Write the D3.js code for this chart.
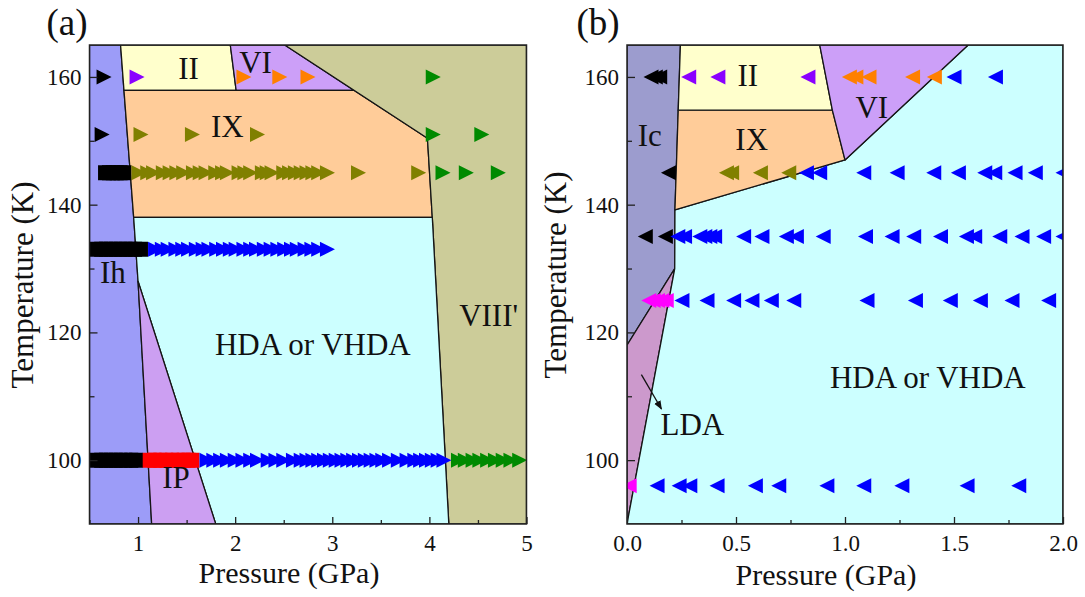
<!DOCTYPE html>
<html>
<head>
<meta charset="utf-8">
<script src="https://cdn.jsdelivr.net/npm/d3@7"></script>
<style>
  body { margin: 0; background: #fff; }
  svg { display: block; }
  text { font-family: "Liberation Serif", "Times New Roman", serif; fill: #111; }
</style>
</head>
<body>
<script>
// ---- phase regions, [pressure GPa, temperature K] ----
var regIhA   = [[0.5,165],[0.82,165],[0.855,157.9],[0.955,138],[1.0,128],[1.14,90],[0.5,90]];
var regIIA   = [[0.82,165],[1.95,165],[2.01,157.9],[0.855,157.9]];
var regVIA   = [[1.95,165],[2.51,165],[3.225,157.9],[2.01,157.9]];
var regIXA   = [[0.855,157.9],[3.225,157.9],[3.98,150.4],[4.03,138],[0.955,138]];
var regVIIIA = [[2.51,165],[5,165],[5,90],[4.2,90],[4.03,138],[3.98,150.4]];
var regHDAA  = [[0.955,138],[4.03,138],[4.2,90],[1.8,90],[1.0,128]];
var regIPA   = [[1.0,128],[1.8,90],[1.14,90]];

var regIcB   = [[0,165],[0.245,165],[0.235,154.8],[0.22,139.2],[0.219,130],[0,118]];
var regLDAB  = [[0,118],[0.219,130],[0,90]];
var regHDAB  = [[0.22,139.2],[1.0,147],[1.565,165],[2,165],[2,90],[0,90],[0.219,130]];
var regIXB   = [[0.235,154.8],[0.942,154.8],[1.0,147],[0.22,139.2]];
var regIIB   = [[0.245,165],[0.884,165],[0.942,154.8],[0.235,154.8]];
var regVIB   = [[0.884,165],[1.565,165],[1.0,147],[0.942,154.8]];

// ---- measured points (pressure values per temperature row) ----
// panel (a)
var a160Black  = [0.65];
var a160Violet = [0.99];
var a160Orange = [2.09, 2.46, 2.75];
var a160Green  = [4.04];
var a151Black  = [0.63];
var a151Olive  = [1.03, 1.56, 2.23];
var a151Green  = [4.04, 4.54];
var a145Black  = [0.66, 0.70, 0.74, 0.78, 0.82, 0.86];
var a145Olive  = [1.01, 1.10, 1.16, 1.26, 1.33, 1.40, 1.47, 1.57, 1.64, 1.70, 1.80, 1.87, 1.92, 2.04,
                  2.10, 2.16, 2.28, 2.33, 2.38, 2.50, 2.56, 2.62, 2.68, 2.74, 2.80, 2.86, 2.95, 3.27, 3.89];
var a145Green  = [4.14, 4.38, 4.71];
var a133Black  = [0.57, 0.62, 0.67, 0.72, 0.77, 0.82, 0.87, 0.92, 0.97, 1.03];
var a133Blue   = [1.18, 1.25, 1.31, 1.39, 1.46, 1.52, 1.60, 1.67, 1.73, 1.81, 1.88, 1.95, 2.01, 2.09,
                  2.16, 2.22, 2.30, 2.37, 2.44, 2.51, 2.58, 2.64, 2.72, 2.79, 2.86, 2.95];
var a100Black  = [0.57, 0.62, 0.67, 0.72, 0.77, 0.82, 0.87, 0.93, 0.98];
var a100Red    = [1.12, 1.17, 1.23, 1.29, 1.35, 1.41, 1.47, 1.52, 1.56];
var a100Blue   = [1.71, 1.78, 1.85, 1.92, 2.00, 2.08, 2.16, 2.23, 2.34, 2.42, 2.50, 2.60, 2.68, 2.74,
                  2.80, 2.86, 2.92, 2.98, 3.04, 3.10, 3.16, 3.22, 3.28, 3.34, 3.40, 3.46, 3.52, 3.59,
                  3.68, 3.77, 3.85, 3.91, 3.97, 4.03, 4.09, 4.15];
var a100Green  = [4.30, 4.37, 4.45, 4.52, 4.60, 4.68, 4.76, 4.84, 4.93];
// panel (b)
var b160Black  = [0.11, 0.13, 0.15];
var b160Violet = [0.283, 0.417, 0.83];
var b160Orange = [1.02, 1.05, 1.11, 1.31, 1.41];
var b160Blue   = [1.50, 1.69];
var b145Black  = [0.19];
var b145Olive  = [0.456, 0.48, 0.612, 0.742];
var b145Blue   = [0.823, 0.884, 1.086, 1.239, 1.407, 1.52, 1.641, 1.687, 1.78, 1.873, 2.0];
var b135Black  = [0.084, 0.176];
var b135Blue   = [0.233, 0.264, 0.334, 0.357, 0.38, 0.402, 0.535, 0.619, 0.731, 0.777, 0.9,
                  1.094, 1.216, 1.315, 1.438, 1.557, 1.595, 1.71, 1.812, 1.911, 2.0];
var b125Magenta= [0.10, 0.12, 0.14, 0.16, 0.18];
var b125Blue   = [0.252, 0.367, 0.489, 0.573, 0.662, 0.765, 1.101, 1.323, 1.483, 1.621, 1.766, 1.934];
var b96Magenta = [0.01];
var b96Blue    = [0.138, 0.239, 0.288, 0.413, 0.589, 0.696, 0.917, 1.086, 1.261, 1.56, 1.797];

// tick values
var xTicksA = [1, 2, 3, 4, 5], xMinorA = [0.5, 1.5, 2.5, 3.5, 4.5];
var xTicksB = [0, 0.5, 1.0, 1.5, 2.0], xMinorB = [0.25, 0.75, 1.25, 1.75];
var yTicks = [100, 120, 140, 160], yMinor = [110, 130, 150];

// ---- styles ----
var fills = {Ih:'#9c9cf8', II:'#ffffcc', VI:'#cc9ff8', IX:'#ffcc99', VIII:'#cccc99', HDA:'#ccffff',
             IP:'#cc9ff2', Ic:'#9c9cce', LDA:'#cc99cc'};
var colors = {black:'#000000', violet:'#8a00ff', orange:'#ff8000', green:'#008a00', olive:'#808000',
              blue:'#0000ff', red:'#ff0000', magenta:'#ff00ff'};

var W = 1085, H = 597;
var svg = d3.select('body').append('svg').attr('width', W).attr('height', H);
svg.append('defs').append('marker')
    .attr('id', 'arr').attr('viewBox', '0 0 10 10').attr('refX', 9).attr('refY', 5)
    .attr('markerWidth', 7).attr('markerHeight', 7).attr('orient', 'auto')
  .append('path').attr('d', 'M0,1L10,5L0,9Z').attr('fill', '#111');

function markPath(shape, dir) {
    if (shape === 'square') return 'M-7,-7.5H7V7.5H-7Z';
    if (dir > 0) return 'M-7.5,-7.5L7.5,0L-7.5,7.5Z';
    return 'M7.5,-7.5L-7.5,0L7.5,7.5Z';
}

function panel(cfg) {
    var x = d3.scaleLinear().domain(cfg.xDomain).range(cfg.xRange);
    var y = d3.scaleLinear().domain([90, 165]).range([524, 45]);
    var g = svg.append('g');
    var clipId = 'clip' + cfg.id;
    g.append('clipPath').attr('id', clipId).append('rect')
        .attr('x', x.range()[0]).attr('y', y.range()[1])
        .attr('width', x.range()[1] - x.range()[0]).attr('height', y.range()[0] - y.range()[1]);
    var plot = g.append('g').attr('clip-path', 'url(#' + clipId + ')');

    var line = d3.line().x(function (d) { return x(d[0]); }).y(function (d) { return y(d[1]); });
    plot.selectAll('path.reg').data(cfg.regions).enter().append('path')
        .attr('class', 'reg')
        .attr('d', function (d) { return line(d.pts) + 'Z'; })
        .attr('fill', function (d) { return fills[d.key]; })
        .attr('stroke', '#151515').attr('stroke-width', 1.3).attr('stroke-linejoin', 'round');

    cfg.series.forEach(function (s) {
        plot.selectAll(null).data(s.P).enter().append('path')
            .attr('d', markPath(s.shape, cfg.dir))
            .attr('transform', function (d) { return 'translate(' + x(d) + ',' + y(s.T) + ')'; })
            .attr('fill', colors[s.color]);
    });

    // frame
    g.append('rect').attr('x', x.range()[0]).attr('y', y.range()[1])
        .attr('width', x.range()[1] - x.range()[0]).attr('height', y.range()[0] - y.range()[1])
        .attr('fill', 'none').attr('stroke', '#222').attr('stroke-width', 1.5);

    var ax = function (sel) {
        sel.select('.domain').remove();
        sel.selectAll('line').attr('stroke', '#222').attr('stroke-width', 1.3);
        sel.selectAll('text').style('font-size', '23px').attr('fill', '#111');
    };
    g.append('g').attr('transform', 'translate(0,' + y.range()[0] + ')')
        .call(d3.axisBottom(x).tickValues(cfg.xTicks).tickFormat(cfg.xFmt).tickSize(-7).tickPadding(11)).call(ax);
    g.append('g').attr('transform', 'translate(0,' + y.range()[0] + ')')
        .call(d3.axisBottom(x).tickValues(cfg.xMinor).tickFormat('').tickSize(-4)).call(ax);
    g.append('g').attr('transform', 'translate(' + x.range()[0] + ',0)')
        .call(d3.axisLeft(y).tickValues(yTicks).tickFormat(d3.format('d')).tickSize(-8).tickPadding(8)).call(ax);
    g.append('g').attr('transform', 'translate(' + x.range()[0] + ',0)')
        .call(d3.axisLeft(y).tickValues(yMinor).tickFormat('').tickSize(-5)).call(ax);

    // region labels
    g.selectAll('text.lab').data(cfg.labels).enter().append('text')
        .attr('class', 'lab')
        .attr('x', function (d) { return x(d[1]); })
        .attr('y', function (d) { return y(d[2]); })
        .attr('dy', '0.35em').attr('text-anchor', 'middle')
        .style('font-size', '31px').text(function (d) { return d[0]; });

    if (cfg.arrow) {
        g.append('line')
            .attr('x1', x(cfg.arrow[0][0])).attr('y1', y(cfg.arrow[0][1]))
            .attr('x2', x(cfg.arrow[1][0])).attr('y2', y(cfg.arrow[1][1]))
            .attr('stroke', '#111').attr('stroke-width', 1.3).attr('marker-end', 'url(#arr)');
    }

    // axis titles
    g.append('text').attr('x', cfg.xTitleX).attr('y', cfg.xTitleY).attr('text-anchor', 'middle')
        .style('font-size', '30px').text('Pressure (GPa)');
    g.append('text').attr('transform', 'translate(' + cfg.yTitleX + ',' + cfg.yTitleY + ') rotate(-90)')
        .attr('text-anchor', 'middle').style('font-size', '31px').text('Temperature (K)');
    g.append('text').attr('x', cfg.tagX).attr('y', 35).attr('text-anchor', 'middle')
        .style('font-size', '37px').text(cfg.tag);
}

panel({
    id: 'A', tag: '(a)', tagX: 67, dir: 1,
    xDomain: [0.5, 5], xRange: [89.5, 526.5],
    xTicks: xTicksA, xMinor: xMinorA, xFmt: d3.format('d'),
    xTitleX: 289, xTitleY: 583, yTitleX: 33, yTitleY: 285,
    regions: [
        {key:'Ih', pts: regIhA}, {key:'II', pts: regIIA}, {key:'VI', pts: regVIA},
        {key:'IX', pts: regIXA}, {key:'VIII', pts: regVIIIA}, {key:'HDA', pts: regHDAA},
        {key:'IP', pts: regIPA}
    ],
    series: [
        {T:160, color:'black', P:a160Black}, {T:160, color:'violet', P:a160Violet},
        {T:160, color:'orange', P:a160Orange}, {T:160, color:'green', P:a160Green},
        {T:151, color:'black', P:a151Black}, {T:151, color:'olive', P:a151Olive},
        {T:151, color:'green', P:a151Green},
        {T:145, color:'black', P:a145Black, shape:'square'}, {T:145, color:'olive', P:a145Olive},
        {T:145, color:'green', P:a145Green},
        {T:133, color:'black', P:a133Black, shape:'square'}, {T:133, color:'blue', P:a133Blue},
        {T:100, color:'black', P:a100Black, shape:'square'}, {T:100, color:'red', P:a100Red, shape:'square'},
        {T:100, color:'blue', P:a100Blue}, {T:100, color:'green', P:a100Green}
    ],
    labels: [['II',1.52,161.4],['VI',2.21,162.3],['IX',1.92,152.3],['Ih',0.74,129.5],
             ['HDA or VHDA',2.8,118.1],["VIII'",4.61,122.7],['IP',1.39,97.3]]
});

panel({
    id: 'B', tag: '(b)', tagX: 598, dir: -1,
    xDomain: [0, 2], xRange: [627, 1063],
    xTicks: xTicksB, xMinor: xMinorB, xFmt: d3.format('.1f'),
    xTitleX: 826, xTitleY: 585, yTitleX: 566, yTitleY: 275,
    regions: [
        {key:'Ic', pts: regIcB}, {key:'LDA', pts: regLDAB}, {key:'HDA', pts: regHDAB},
        {key:'IX', pts: regIXB}, {key:'II', pts: regIIB}, {key:'VI', pts: regVIB}
    ],
    series: [
        {T:160, color:'black', P:b160Black}, {T:160, color:'violet', P:b160Violet},
        {T:160, color:'orange', P:b160Orange}, {T:160, color:'blue', P:b160Blue},
        {T:145, color:'black', P:b145Black}, {T:145, color:'olive', P:b145Olive},
        {T:145, color:'blue', P:b145Blue},
        {T:135, color:'black', P:b135Black}, {T:135, color:'blue', P:b135Blue},
        {T:125, color:'magenta', P:b125Magenta}, {T:125, color:'blue', P:b125Blue},
        {T:96, color:'magenta', P:b96Magenta}, {T:96, color:'blue', P:b96Blue}
    ],
    labels: [['II',0.554,160.3],['VI',1.123,155.2],['IX',0.572,150.2],['Ic',0.104,150.9],
             ['HDA or VHDA',1.38,113.0],['LDA',0.30,105.6]],
    arrow: [[0.066,113.4],[0.158,108.0]]
});
</script>
</body>
</html>
